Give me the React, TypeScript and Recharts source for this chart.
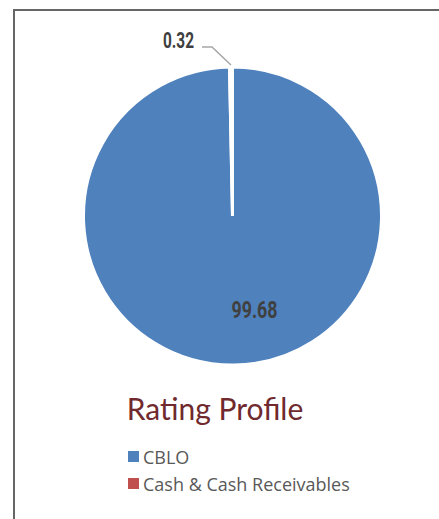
import { Legend, Pie, PieChart, Cell } from "recharts";

const names = ["CBLO", "Cash & Cash Receivables"];
const values = [99.68, 0.32];
const colors = ["#4F81BD", "#C0504D"];

const data = names.map((name, i) => ({ name, value: values[i] }));

const RAD = Math.PI / 180;
const labelFont = "Roboto, 'DejaVu Sans', sans-serif";

const renderLabel = (props: any) => {
  const { cx, cy, midAngle, outerRadius, index, value } = props;
  if (index === 0) {
    return (
      <text x={cx + 22} y={cy + 94} textAnchor="middle" dominantBaseline="central" fill="#404040"
        fontFamily={labelFont} fontWeight="bold" fontSize={23} textLength={46} lengthAdjust="spacingAndGlyphs">
        {value.toFixed(2)}
      </text>
    );
  }
  const x0 = cx + (outerRadius + 2) * Math.cos(-midAngle * RAD);
  const y0 = cy + (outerRadius + 2) * Math.sin(-midAngle * RAD);
  const x1 = x0 - 19;
  const y1 = y0 - 18;
  const x2 = x1 - 10;
  return (
    <g>
      <polyline points={`${x0},${y0} ${x1},${y1} ${x2},${y1}`} fill="none" stroke="#A6A6A6" strokeWidth={1.5} />
      <text x={x2 - 8} y={y1 - 7} textAnchor="end" dominantBaseline="central" fill="#404040"
        fontFamily={labelFont} fontWeight="bold" fontSize={22} textLength={31} lengthAdjust="spacingAndGlyphs">
        {value.toFixed(2)}
      </text>
    </g>
  );
};

const LegendBox = () => (
  <div style={{ fontFamily: "'Open Sans', sans-serif", fontSize: 18, color: "#595959" }}>
    {names.map((name, i) => (
      <div key={name} style={{ display: "flex", alignItems: "center", height: 27 }}>
        <span style={{ width: 11, height: 11, background: colors[i], marginRight: 4 }} />
        <span>{name}</span>
      </div>
    ))}
  </div>
);

export default function App() {
  return (
    <div style={{ position: "absolute", left: 0, top: 0, width: 439, height: 519, background: "#fff" }}>
      <div style={{ position: "absolute", left: 13, top: 9, right: 0, bottom: 0, borderLeft: "2px solid #666", borderTop: "2px solid #666" }} />
      <PieChart width={439} height={519} style={{ position: "absolute", left: 0, top: 0 }}>
        <Pie data={data} dataKey="value" nameKey="name" cx={227.5} cy={211} outerRadius={149}
          startAngle={90} endAngle={-270} stroke="#FFFFFF" strokeWidth={3}
          label={renderLabel} labelLine={false} isAnimationActive={false}>
          {data.map((d, i) => (
            <Cell key={d.name} fill={colors[i]} />
          ))}
        </Pie>
        <Legend content={() => <LegendBox />} wrapperStyle={{ position: "absolute", left: 128, top: 443, width: 280 }} />
      </PieChart>
      <div style={{ position: "absolute", left: 0, width: 430, top: 390, textAlign: "center", fontFamily: "Lato, sans-serif", fontSize: 30, color: "#70292D" }}>
        Rating Profile
      </div>
    </div>
  );
}
